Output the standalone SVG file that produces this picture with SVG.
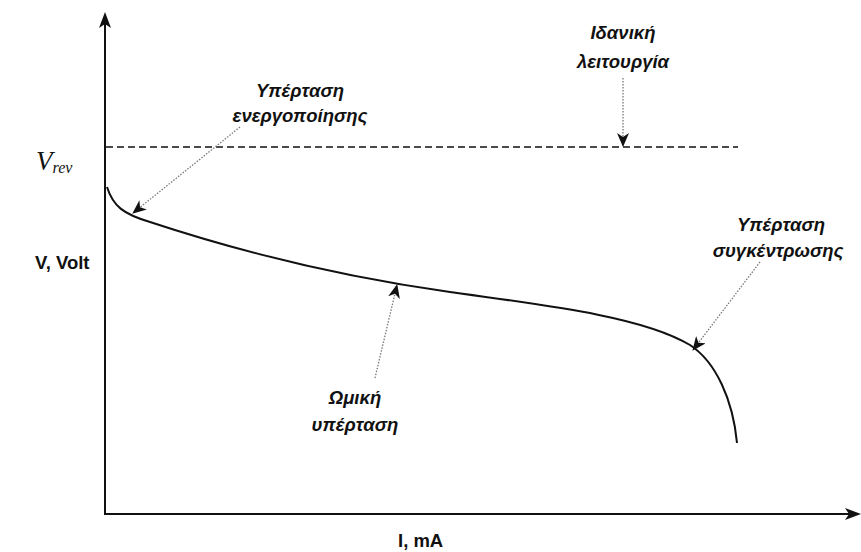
<svg xmlns="http://www.w3.org/2000/svg" width="861" height="552" viewBox="0 0 861 552">
<style>
.lbl{font-family:"Liberation Sans",Arial,sans-serif;font-weight:bold;font-style:italic;font-size:18.5px;fill:#111;text-anchor:middle}
.ax{font-family:"Liberation Sans",Arial,sans-serif;font-weight:bold;font-size:18.5px;fill:#111}
.axis{stroke:#111;stroke-width:2;fill:none}
.lead{stroke:#777;stroke-width:1.3;stroke-dasharray:1.5 1.5;fill:none}
</style>
<defs>
<marker id="ah" viewBox="0 0 14 12" refX="13" refY="6" markerWidth="14" markerHeight="12" markerUnits="userSpaceOnUse" orient="auto">
<path d="M0,0 L14,6 L0,12 L4,6 Z" fill="#111"/>
</marker>
</defs>
<rect width="861" height="552" fill="#fff"/>
<g id="axes">
<path class="axis" d="M105,515 L105,22"/>
<path class="axis" d="M104,514 L850,514"/>
<path d="M105,12 L111,28 L105,24 L99,28 Z" fill="#111"/>
<path d="M861,514 L845,520 L849,514 L845,508 Z" fill="#111"/>
</g>
<g id="vrev-line">
<path d="M106,147 L738,147" stroke="#111" stroke-width="1.5" stroke-dasharray="7 4" fill="none"/>
</g>
<g id="curve">
<path d="M107,187 C113,206 123,214 150,222 C250,255 350,278 450,292 C560,307 645,318 690,345 C716,362 733,400 737,443" stroke="#111" stroke-width="2" fill="none"/>
</g>
<g id="connectors">
<path class="lead" d="M240,127 L133,213" marker-end="url(#ah)"/>
<path class="lead" d="M623,78 L623,146" marker-end="url(#ah)"/>
<path class="lead" d="M760,262 L693,350" marker-end="url(#ah)"/>
<path class="lead" d="M375,378 L397,285" marker-end="url(#ah)"/>
</g>
<g id="label-activation">
<text class="lbl" x="300" y="97">Υπέρταση</text>
<text class="lbl" x="300" y="122">ενεργοποίησης</text>
</g>
<g id="label-ideal">
<text class="lbl" x="623" y="39">Ιδανική</text>
<text class="lbl" x="623" y="68">λειτουργία</text>
</g>
<g id="label-concentration">
<text class="lbl" x="781" y="231">Υπέρταση</text>
<text class="lbl" x="778" y="257">συγκέντρωσης</text>
</g>
<g id="label-ohmic">
<text class="lbl" x="355" y="404">Ωμική</text>
<text class="lbl" x="355" y="431">υπέρταση</text>
</g>
<g id="label-vrev">
<text x="36" y="170" font-family="Liberation Serif,serif" font-style="italic" font-size="27" fill="#111">V<tspan font-size="16" dy="3">rev</tspan></text>
</g>
<g id="label-y">
<text class="ax" x="35" y="269">V, Volt</text>
</g>
<g id="label-x">
<text class="ax" x="398" y="547">I, mA</text>
</g>
</svg>
